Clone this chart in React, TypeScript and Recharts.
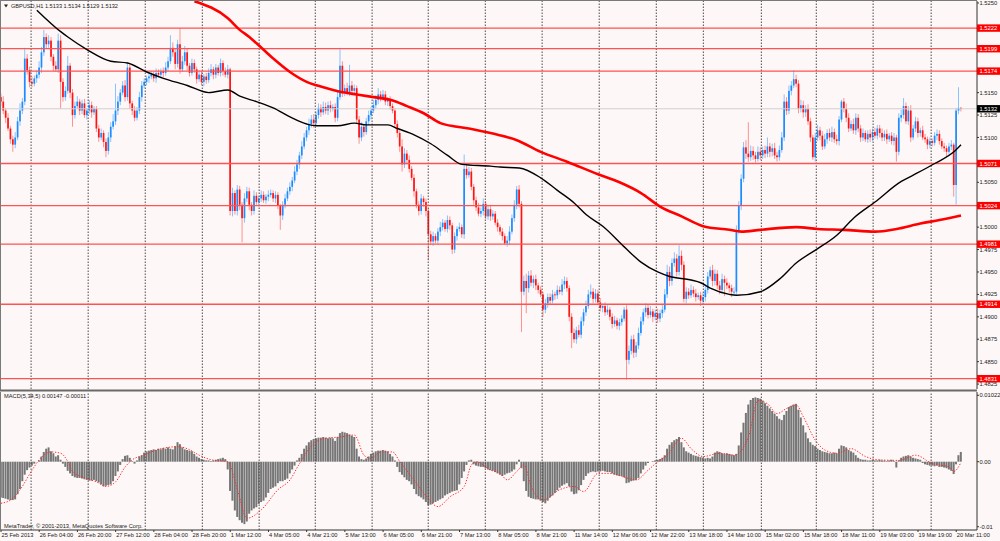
import React from 'react';
import { ComposedChart, Bar, Line, XAxis, YAxis, ReferenceLine } from 'recharts';

// ---- DATA (prices in pips above 1.4800, MACD in units of 0.0001) ----
const BASE = 1.48;
const PIP = 0.0001;

const firstOpen = 345;
const closes = [
  340,330,322,310,298,292,300,318,330,340,
  388,375,362,360,366,370,378,395,412,404,
  408,390,380,376,408,362,345,352,380,350,
  325,335,340,330,338,325,330,336,328,332,
  310,300,305,295,285,300,312,318,330,340,
  350,358,345,378,338,330,322,330,345,358,
  362,366,368,370,366,372,370,374,372,378,
  385,400,395,382,404,376,385,395,380,372,
  383,376,365,370,362,368,364,372,376,370,
  378,372,383,374,370,376,218,238,218,242,
  225,210,232,240,225,218,235,228,232,236,
  230,234,236,238,232,236,224,213,225,232,
  240,245,252,262,270,280,290,300,308,315,
  320,316,325,333,328,334,330,336,332,334,
  322,345,380,350,355,350,358,352,355,320,
  300,312,306,318,325,330,336,342,348,344,
  348,340,342,335,330,315,305,290,270,282,
  275,265,255,240,225,218,232,228,218,192,
  184,190,185,195,200,205,198,208,202,175,
  190,198,200,192,265,258,262,245,230,222,
  215,218,226,212,220,212,215,205,200,195,
  190,182,185,195,210,225,242,226,128,140,
  132,146,138,142,135,130,125,108,115,122,
  118,125,124,130,128,136,140,132,100,82,
  75,85,80,95,105,112,125,128,120,126,
  116,110,112,105,108,100,92,96,90,94,
  98,108,52,62,75,60,68,82,95,105,
  110,102,106,100,104,98,104,108,125,150,
  140,160,165,150,168,158,120,128,124,130,
  126,122,124,118,122,130,145,152,140,148,
  135,130,142,138,135,132,128,128,196,224,
  254,289,282,278,285,280,276,284,280,286,
  282,290,284,288,280,278,286,300,340,330,
  352,358,365,360,332,336,328,332,318,300,
  278,300,308,302,290,298,305,300,306,298,
  296,320,340,332,322,310,315,308,322,310,
  300,305,298,304,300,306,302,310,305,300,
  304,298,302,296,300,284,322,325,335,318,
  330,300,310,318,305,308,300,298,292,296,
  294,302,304,296,290,288,284,290,292,247,
  330,333,332,
];

const upWicks = [
  4,6,3,5,3,4,6,5,8,4, 12,5,4,6,3,5,7,6,8,4, 6,4,3,5,8,6,4,5,11,3, 4,5,6,3,4,5,3,6,4,3,
  3,4,5,3,4,6,5,8,30,6, 4,5,6,6,4,3,5,4,6,5, 4,3,5,4,3,5,4,3,4,6, 5,14,6,4,5,18,6,7,4,3,
  5,4,3,5,4,3,4,5,6,3, 4,3,5,3,4,5,2,6,3,5, 4,3,6,5,4,3,6,4,3,5, 4,3,5,4,3,4,3,2,4,5,
  4,5,4,6,5,4,6,5,4,6, 5,6,4,5,4,6,5,4,5,3, 4,6,20,5,4,6,23,5,4,3, 4,5,3,4,5,4,6,5,7,4,
  5,4,3,4,3,3,4,3,8,6, 4,5,3,4,3,4,5,3,4,3, 4,5,3,4,6,4,3,5,4,3, 4,3,5,3,16,6,5,4,3,4,
  5,4,6,3,4,5,4,3,4,3, 4,3,5,6,4,5,4,5,3,6, 8,5,6,4,5,3,4,3,5,4, 4,5,3,5,4,6,5,4,3,4,
  5,4,6,5,4,6,5,8,4,5, 4,5,3,4,5,3,4,5,3,4, 4,3,5,6,4,5,4,6,5,4, 5,4,6,3,4,5,4,5,6,8,
  6,5,7,5,12,6,4,5,4,6, 4,5,3,4,5,6,5,4,6,5, 4,5,6,4,5,3,4,5,6,5, 5,6,8,35,6,5,4,6,5,4,
  5,10,4,5,6,4,5,6,8,5, 6,5,10,5,4,6,5,4,5,4, 3,5,6,4,5,6,4,5,6,4, 5,4,2,4,6,5,4,6,5,4,
  4,5,3,4,5,4,5,4,4,5, 4,5,3,4,5,3,5,6,9,4, 5,6,4,5,4,3,5,4,3,4, 3,4,5,4,3,4,3,4,5,2,
  3,23,1,
];

const downWicks = [
  5,4,6,3,5,8,4,3,5,4, 4,5,6,4,3,5,4,6,4,5, 4,5,6,3,4,30,5,4,3,6, 13,4,3,5,4,3,5,4,6,3,
  4,5,3,6,7,4,5,3,4,5, 4,3,5,4,6,5,4,3,4,5, 3,4,5,3,4,5,3,4,5,3, 4,3,5,6,4,5,3,4,5,4,
  3,4,5,3,4,5,4,3,4,5, 4,3,4,5,3,4,5,6,4,5, 6,27,5,4,6,5,4,3,5,4, 3,4,5,3,4,5,4,16,5,4,
  3,4,5,3,4,5,4,3,4,5, 4,5,3,4,5,3,4,5,4,3, 5,4,3,5,4,3,4,5,4,5, 7,4,5,3,4,5,3,4,5,4,
  3,4,5,4,3,4,5,6,8,4, 5,4,3,6,4,5,4,5,6,29, 4,5,3,4,5,4,3,4,5,5, 4,5,3,4,5,4,3,4,5,4,
  3,4,5,3,4,5,4,3,5,4, 5,2,4,5,3,4,5,4,45,4, 28,5,4,6,5,4,3,8,4,5, 4,3,5,4,3,4,5,4,5,17,
  4,5,3,4,5,4,3,4,5,4, 3,4,5,4,3,4,5,3,4,5, 4,3,22,5,4,6,5,4,3,4, 5,4,3,6,4,5,4,5,3,4,
  6,5,4,5,4,6,4,5,4,3, 4,5,3,6,4,5,4,3,6,5, 4,5,3,15,4,5,6,4,3,4, 5,4,6,5,4,5,4,3,5,4,
  5,4,6,5,4,5,4,3,4,5, 4,5,3,4,5,4,6,5,4,5, 3,5,4,5,4,3,5,4,5,4, 4,5,3,4,5,4,3,4,5,4,
  5,4,3,4,5,4,3,4,5,4, 4,5,3,4,5,11,4,5,4,3, 4,5,3,4,5,4,3,4,5,4, 4,3,5,4,3,4,5,3,4,13,
  22,4,3,
];

// moving averages, read at [bar, pips]
const blackMa = [
  [15,442],[25,418],[28,412],[36,398],[46,385],[53,383],[61,373],[68,366],[78,358],[87,350],
  [95,353],[100,346],[107,340],[114,333],[121,323],[128,315],[132,313],[141,313],[148,316],[153,314],
  [162,314],[166,310],[173,303],[180,293],[187,280],[193,270],[205,268],[209,267],[217,266],[226,255],
  [233,241],[240,227],[245,214],[252,201],[261,178],[268,161],[275,150],[280,145],[289,141],[293,138],
  [297,132],[305,125],[308,124],[318,128],[326,142],[333,160],[342,176],[350,191],[357,210],[366,228],
  [377,251],[382,258],[391,271],[399,284],[402,292],
];
const redMa = [
  [81,452],[95,433],[100,420],[104,412],[107,405],[114,388],[121,373],[128,362],[135,356],[142,351],
  [149,348],[156,345],[163,342],[170,335],[177,327],[184,316],[191,312],[198,309],[205,305],[208,303],
  [216,297],[226,284],[237,273],[250,259],[259,250],[268,238],[276,223],[285,212],[294,201],[305,197],
  [310,195],[318,197],[333,200],[342,198],[353,197],[366,195],[375,198],[385,204],[393,208],[402,213],
];

const macdHist = [
  -55,-56,-57,-58,-59,-59,-58,-50,-42,-30, -20,-13,-9,-6,-3,0,2,8,15,20,
  22,16,13,8,10,3,-3,-8,-14,-18, -22,-24,-25,-25,-26,-27,-28,-29,-29,-28,
  -30,-32,-35,-38,-37,-36,-35,-30,-22,-15, -5,4,9,10,6,1,-3,2,8,10,
  14,16,17,18,19,18,20,19,21,20, 22,20,19,24,30,27,22,19,18,17,
  16,12,8,6,4,3,2,2,1,2, 3,4,5,6,4,-12,-45,-60,-75,-85,
  -90,-94,-96,-92,-80,-75,-72,-70,-65,-62, -60,-55,-48,-42,-40,-38,-33,-30,-30,-28,
  -26,-18,-12,-6,2,6,12,20,25,30, 33,35,36,37,37,38,37,36,37,36,
  32,38,44,46,45,44,42,40,38,20, 8,4,3,5,8,12,14,16,17,17,
  18,17,16,12,8,2,-8,-16,-20,-24, -28,-30,-35,-42,-50,-53,-55,-58,-62,-67,
  -66,-64,-62,-60,-58,-56,-52,-50,-48,-46, -45,-44,-35,-25,-15,-5,2,3,-4,-6,
  -7,-8,-8,-10,-12,-13,-14,-16,-18,-20, -22,-20,-18,-17,-15,-12,-4,3,-10,-30,
  -45,-54,-56,-57,-58,-58,-60,-62,-64,-60, -55,-52,-48,-44,-40,-37,-35,-33,-38,-46,
  -50,-49,-44,-36,-28,-22,-18,-16,-15,-16, -15,-15,-14,-15,-16,-16,-18,-20,-21,-22,
  -22,-24,-33,-32,-30,-29,-28,-25,-18,-12, -6,-2,0,1,2,3,4,6,10,20,
  26,30,33,35,38,30,22,16,14,12, 10,9,8,7,6,5,6,5,8,14,
  16,15,13,12,13,12,11,10,12,25, 45,60,75,88,95,98,99,98,97,94,
  90,86,82,78,74,70,66,64,72,78, 84,86,88,89,80,68,56,45,36,30,
  26,24,20,18,16,15,14,13,13,14, 13,20,25,24,22,18,16,14,10,6,
  4,3,3,2,2,3,2,2,3,2, 2,1,2,3,1,-9,2,6,8,9,
  10,8,6,5,4,3,-2,-4,-5,-6, -6,-7,-6,-8,-8,-9,-10,-12,-14,-19,
  -4,10,15,
];

const macdSignal = [
  [0,-64],[4,-59],[8,-43],[13,-13],[16,3],[21,15],[25,13],[28,0],[30,-15],[35,-25],
  [40,-31],[44,-38],[48,-31],[52,-8],[55,3],[60,10],[65,18],[74,23],[78,20],[83,10],
  [88,3],[95,0],[99,-43],[103,-87],[109,-74],[116,-43],[121,-28],[125,-3],[131,28],[136,36],
  [142,38],[148,41],[152,10],[155,5],[159,15],[164,15],[167,0],[173,-28],[177,-48],[183,-69],
  [188,-54],[194,-38],[197,-5],[199,0],[205,-13],[209,-18],[212,-28],[216,-15],[219,-5],[222,-38],
  [227,-59],[234,-43],[240,-38],[244,-46],[250,-18],[255,-18],[262,-25],[266,-28],[271,-13],[275,0],
  [279,10],[285,36],[289,20],[294,8],[301,13],[307,10],[313,38],[317,94],[321,89],[325,74],
  [329,82],[333,87],[336,69],[341,33],[345,18],[350,13],[356,20],[362,8],[367,3],[376,2],
  [383,10],[390,-3],[397,-8],[399,-15],[402,-1],
];

const levels = [1.5222, 1.5199, 1.5174, 1.5071, 1.5024, 1.4981, 1.4914, 1.4831];
const bidPrice = 1.5132;
// regular price-scale labels that are not hidden under the level labels
const priceTicks = [
  1.4825, 1.485, 1.4875, 1.49, 1.4925, 1.495, 1.4975, 1.5, 1.505,
  1.51, 1.5125, 1.515, 1.525,
];
const macdTicks = [0.01022, 0, -0.01];
const macdTickLabels = ['0.01022', '0.00', '-0.01'];

const timeLabels = [
  '25 Feb 2013', '26 Feb 04:00', '26 Feb 20:00', '27 Feb 12:00', '28 Feb 04:00', '28 Feb 20:00',
  '1 Mar 12:00', '4 Mar 05:00', '4 Mar 21:00', '5 Mar 13:00', '6 Mar 05:00', '6 Mar 21:00',
  '7 Mar 13:00', '8 Mar 05:00', '8 Mar 21:00', '11 Mar 14:00', '12 Mar 06:00', '12 Mar 22:00',
  '13 Mar 18:00', '14 Mar 10:00', '15 Mar 02:00', '15 Mar 18:00', '18 Mar 11:00', '19 Mar 03:00',
  '19 Mar 19:00', '20 Mar 11:00',
];
const timeLabelBars = [0,16,32,48,64,80,96,112,128,144,160,176,192,208,224,240,256,272,288,304,320,336,352,368,384,400];
const dayStartBars = [12.6,36.5,60.4,84.3,108.1,131.6,155.4,178.9,202.8,226.6,250.5,274.4,294.1,318.4,341.4,365.2,389.5];

const headerText = 'GBPUSD,H1  1.5133 1.5134 1.5129 1.5132';
const macdHeader = 'MACD(5,34,5) 0.00147 -0.00011';
const footerText = 'MetaTrader, \u00A9 2001-2013, MetaQuotes Software Corp.';

// ---- tables built from the arrays ----
const candleData = closes.map((c, i) => {
  const o = i === 0 ? firstOpen : closes[i - 1];
  const hi = Math.max(o, c) + upWicks[i];
  const lo = Math.min(o, c) - downWicks[i];
  return {
    i,
    open: BASE + o * PIP,
    close: BASE + c * PIP,
    high: BASE + hi * PIP,
    low: BASE + lo * PIP,
    range: [BASE + lo * PIP, BASE + hi * PIP],
  };
});
const blackData = blackMa.map(([b, v]) => ({ i: b, v: BASE + v * PIP }));
const redData = redMa.map(([b, v]) => ({ i: b, v: BASE + v * PIP }));
const macdData = macdHist.map((v, i) => ({ i, macd: v * PIP }));
const signalData = macdSignal.map(([b, v]) => ({ i: b, s: v * PIP }));

const FONT = '"Liberation Sans", Arial, sans-serif';
const BG = '#FDF8F7';
const X_DOMAIN: [number, number] = [0, 408.7];

const CandleShape = (props: any) => {
  const { x, y, width, height, payload } = props;
  if (x == null || y == null || isNaN(y) || !payload) return null;
  const { open, close, high, low } = payload;
  const top = Math.min(y, y + height);
  const h = Math.abs(height);
  const span = high - low;
  const toY = (v: number) => (span === 0 ? top : top + ((high - v) / span) * h);
  const up = close >= open;
  const cx = x + width / 2;
  const yo = toY(open);
  const yc = toY(close);
  const bTop = Math.min(yo, yc);
  const bH = Math.max(Math.abs(yc - yo), 0.9);
  return (
    <g>
      <line x1={cx} x2={cx} y1={top} y2={top + h} stroke={up ? '#86c3ff' : '#ff9090'} strokeWidth={1} />
      <rect x={cx - 0.85} y={bTop} width={1.7} height={bH} fill={up ? '#1e8cff' : '#ff1414'} />
    </g>
  );
};

const PriceTick = (props: any) => {
  const { x, y, payload } = props;
  const v = payload.value;
  const isLevel = levels.includes(v);
  const isBid = v === bidPrice;
  if (isLevel || isBid) {
    return (
      <g>
        <rect x={x} y={y - 3.7} width={23} height={7.4} fill={isBid ? '#000000' : '#ff0000'} />
        <text x={x + 2.5} y={y} dy="0.36em" fontSize={5.8} fontFamily={FONT} fill="#ffffff">
          {v.toFixed(4)}
        </text>
      </g>
    );
  }
  return (
    <g>
      <line x1={x} x2={x + 2} y1={y} y2={y} stroke="#333" />
      <text x={x + 2.5} y={y} dy="0.36em" fontSize={5.8} fontFamily={FONT} fill="#1a1a1a">
        {v.toFixed(4)}
      </text>
    </g>
  );
};

const MacdTick = (props: any) => {
  const { x, y, payload } = props;
  const idx = macdTicks.indexOf(payload.value);
  return (
    <g>
      <line x1={x} x2={x + 2} y1={y} y2={y} stroke="#333" />
      <text x={x + 2.5} y={y} dy="0.36em" fontSize={5.8} fontFamily={FONT} fill="#1a1a1a">
        {macdTickLabels[idx]}
      </text>
    </g>
  );
};

const TimeTick = (props: any) => {
  const { x, y, payload } = props;
  const idx = timeLabelBars.indexOf(payload.value);
  return (
    <text x={x + 0.5} y={y} dy="0.75em" fontSize={5.7} fontFamily={FONT} fill="#1a1a1a" textAnchor="start">
      {timeLabels[idx]}
    </text>
  );
};

export default function App() {
  return (
    <div style={{ position: 'absolute', left: 0, top: 0, width: 1000, height: 541, background: BG, overflow: 'hidden' }}>
      <div style={{ position: 'absolute', left: 0, top: 0 }}>
        <ComposedChart width={1000} height={390} data={candleData} margin={{ top: 1, right: 0, bottom: 1, left: 1 }}>
          <XAxis type="number" dataKey="i" domain={X_DOMAIN} hide allowDataOverflow />
          <YAxis
            orientation="right"
            type="number"
            width={23}
            domain={[1.48195, 1.52522]}
            allowDataOverflow
            ticks={[...priceTicks, ...levels, bidPrice]}
            interval={0}
            tickSize={0}
            tickMargin={0}
            tickLine={false}
            axisLine={{ stroke: '#333' }}
            tick={<PriceTick />}
          />
          {dayStartBars.map((b) => (
            <ReferenceLine key={'g' + b} x={b} stroke="#4a4a4a" strokeDasharray="1.5 1.5" strokeWidth={1} />
          ))}
          <ReferenceLine y={bidPrice} stroke="#cfcfcf" strokeWidth={1} />
          {levels.map((l) => (
            <ReferenceLine key={'l' + l} y={l} stroke="#ff5252" strokeWidth={1.3} />
          ))}
          <Bar dataKey="range" shape={<CandleShape />} barSize={3} isAnimationActive={false} />
          <Line data={redData} dataKey="v" type="monotone" stroke="#ff0000" strokeWidth={2.6} dot={false} activeDot={false} isAnimationActive={false} />
          <Line data={blackData} dataKey="v" type="monotone" stroke="#000000" strokeWidth={1.4} dot={false} activeDot={false} isAnimationActive={false} />
        </ComposedChart>
      </div>
      <div style={{ position: 'absolute', left: 0, top: 391 }}>
        <ComposedChart width={1000} height={150} data={macdData} margin={{ top: 1, right: 0, bottom: 0, left: 1 }}>
          <XAxis
            type="number"
            dataKey="i"
            domain={X_DOMAIN}
            allowDataOverflow
            ticks={timeLabelBars}
            interval={0}
            height={11}
            tickSize={2}
            tickMargin={1}
            tickLine={{ stroke: '#333' }}
            axisLine={{ stroke: '#333' }}
            tick={<TimeTick />}
          />
          <YAxis
            orientation="right"
            type="number"
            width={23}
            domain={[-0.010508, 0.010723]}
            allowDataOverflow
            ticks={macdTicks}
            interval={0}
            tickSize={0}
            tickMargin={0}
            tickLine={false}
            axisLine={{ stroke: '#333' }}
            tick={<MacdTick />}
          />
          {dayStartBars.map((b) => (
            <ReferenceLine key={'mg' + b} x={b} stroke="#4a4a4a" strokeDasharray="1.5 1.5" strokeWidth={1} />
          ))}
          <Bar dataKey="macd" fill="#767676" barSize={2} isAnimationActive={false} />
          <Line data={signalData} dataKey="s" type="monotone" stroke="#ff2a2a" strokeWidth={1} strokeDasharray="1.3 1.6" dot={false} activeDot={false} isAnimationActive={false} />
        </ComposedChart>
      </div>
      <svg width={1000} height={541} style={{ position: 'absolute', left: 0, top: 0, pointerEvents: 'none' }}>
        <line x1={0.5} y1={0} x2={0.5} y2={390} stroke="#7a7a7a" />
        <line x1={0} y1={0.5} x2={977} y2={0.5} stroke="#7a7a7a" />
        <line x1={0} y1={390.5} x2={977} y2={390.5} stroke="#6a6a6a" strokeWidth={2} />
        <line x1={0.5} y1={392} x2={0.5} y2={531} stroke="#7a7a7a" />
        <polygon points="4,4.5 8,4.5 6,7.5" fill="#222" />
        <text x={11} y={6} dy="0.36em" fontSize={5.6} fontFamily={FONT} fill="#1a1a1a">{headerText}</text>
        <text x={4} y={396} dy="0.36em" fontSize={5.7} fontFamily={FONT} fill="#1a1a1a">{macdHeader}</text>
        <text x={4} y={526} dy="0.36em" fontSize={5.7} fontFamily={FONT} fill="#1a1a1a">{footerText}</text>
      </svg>
    </div>
  );
}
